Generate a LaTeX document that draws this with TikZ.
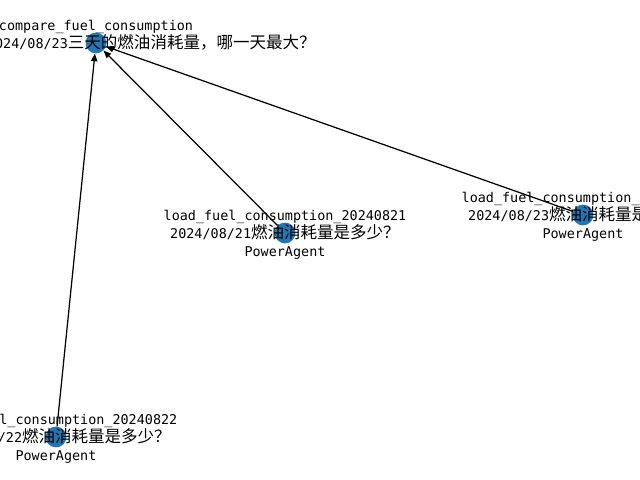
\documentclass[tikz,border=0pt]{standalone}
\usepackage{fontspec}
\usetikzlibrary{arrows.meta}
\setmainfont{DejaVu Sans Mono}
\newfontfamily\cjk{Noto Sans CJK SC}[Scale=1.23]
\definecolor{agentblue}{HTML}{1F77B4}

\begin{document}
\begin{tikzpicture}[x=0.01in, y=-0.01in,
  agent/.style={circle, fill=agentblue, minimum size=15pt, inner sep=0pt},
  lab/.style={align=center, inner sep=0pt, yshift=-1.2pt, font=\fontsize{9.7}{13.2}\selectfont},
  edge/.style={-{Triangle[length=5.5pt, width=4.5pt]}, line width=0.9pt}]
  \useasboundingbox (0,0) rectangle (640,480);
  \clip (0,0) rectangle (640,480);
  % agents
  \node[agent] (cmp) at (96, 43) {};
  \node[agent] (l21) at (285, 233) {};
  \node[agent] (l23) at (583, 215) {};
  \node[agent] (l22) at (56, 437) {};
  % edges
  \draw[edge] (l21) -- (cmp);
  \draw[edge] (l23) -- (cmp);
  \draw[edge] (l22) -- (cmp);
  % labels
  \node[lab] (cmp-lab) at (cmp) {compare\_fuel\_consumption\\\hspace*{80pt}2024/08/23{\cjk 三天的燃油消耗量，哪一天最大？}\\\phantom{PowerAgent}};
  \node[lab] (l21-lab) at (l21) {load\_fuel\_consumption\_20240821\\2024/08/21{\cjk 燃油消耗量是多少？}\\PowerAgent};
  \node[lab] (l23-lab) at (l23) {load\_fuel\_consumption\_20240823\\2024/08/23{\cjk 燃油消耗量是多少？}\\PowerAgent};
  \node[lab] (l22-lab) at (l22) {load\_fuel\_consumption\_20240822\\2024/08/22{\cjk 燃油消耗量是多少？}\\PowerAgent};
\end{tikzpicture}
\end{document}
